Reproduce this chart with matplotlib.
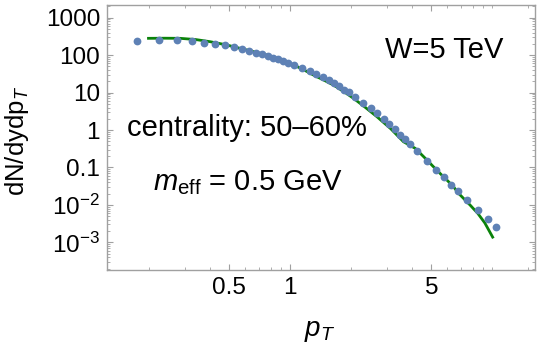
import matplotlib
matplotlib.use("Agg")
import matplotlib.pyplot as plt
from matplotlib.ticker import FixedLocator, NullFormatter, LogLocator

plt.rcParams['font.family'] = ['Liberation Sans', 'DejaVu Sans']
plt.rcParams['mathtext.fontset'] = 'custom'
plt.rcParams['mathtext.rm'] = 'Liberation Sans'
plt.rcParams['mathtext.it'] = 'Liberation Sans:italic'

# data points (pT, dN/dydpT)
pt_data = [0.175, 0.225, 0.275, 0.325, 0.375, 0.425, 0.475, 0.525, 0.575, 0.625,
           0.675, 0.725, 0.775, 0.825, 0.875, 0.925, 0.975, 1.05, 1.15, 1.25,
           1.35, 1.45, 1.55, 1.65, 1.75, 1.85, 1.95, 2.1, 2.3, 2.5,
           2.7, 2.9, 3.1, 3.3, 3.5, 3.7, 3.9, 4.25, 4.75, 5.25,
           5.75, 6.25, 6.75, 7.5, 8.5, 9.5, 10.5]
y_data = [243, 259, 249, 234, 215, 199, 183, 165, 146, 131,
          116, 105, 94.8, 85.4, 77.4, 69.7, 62.8, 56.2, 45.9, 37.5,
          31.4, 26.1, 21.7, 18.0, 14.7, 12.1, 10.2, 7.71, 5.43, 3.87,
          2.81, 2.02, 1.49, 1.04, 0.758, 0.565, 0.428, 0.278, 0.150, 0.0880,
          0.0555, 0.0350, 0.0234, 0.0139, 0.00751, 0.00432, 0.00261]

# model curve
pt_curve = [0.199, 0.24, 0.285, 0.34, 0.402, 0.48, 0.566, 0.66, 0.767, 0.88, 1.0, 1.15, 1.304,
            1.47, 1.64, 1.85, 2.06, 2.36, 2.69, 3.15, 3.64, 4.16, 4.6, 5.12, 5.52,
            6.0, 6.44, 6.82, 7.5, 7.78, 8.5, 9.2, 10.06]
y_curve = [282, 284, 282, 262, 229, 190, 152, 124, 101, 79, 60.5, 42.5, 29.5,
           21.5, 15.9, 10.5, 7.03, 4.0, 2.27, 1.08, 0.487, 0.325, 0.19, 0.105, 0.0697,
           0.045, 0.0305, 0.0204, 0.0121, 0.0099, 0.0059, 0.0033, 0.00138]

xticks = [0.5, 1, 5]
xtick_labels = ['0.5', '1', '5']
yticks = [1e3, 1e2, 1e1, 1, 0.1, 0.01, 0.001]
ytick_labels = ['1000', '100', '10', '1', '0.1',
                r'$\mathregular{10^{-2}}$', r'$\mathregular{10^{-3}}$']

fig = plt.figure(figsize=(5.42, 3.48), dpi=100)
ax = fig.add_axes([107/542, 1-269.7/348, (535-107)/542, (269.7-5)/348])

ax.plot(pt_curve, y_curve, color='#0a820a', lw=2.0, zorder=2)
ax.plot(pt_data, y_data, 'o', color='#5e81b5', ms=5.6, mec='none', zorder=3)

ax.set_xscale('log')
ax.set_yscale('log')
ax.set_xlim(0.124, 16.3)
ax.set_ylim(1.86e-4, 2190)

ax.xaxis.set_major_locator(FixedLocator(xticks))
ax.set_xticklabels(xtick_labels)
minor_x = [0.2, 0.3, 0.4, 0.6, 0.7, 0.8, 0.9, 2, 3, 4, 6, 7, 8, 9, 10, 15]
ax.xaxis.set_minor_locator(FixedLocator(minor_x))
ax.xaxis.set_minor_formatter(NullFormatter())

ax.yaxis.set_major_locator(FixedLocator(yticks))
ax.set_yticklabels(ytick_labels)
ax.yaxis.set_minor_locator(LogLocator(base=10, subs=range(2, 10), numticks=20))
ax.yaxis.set_minor_formatter(NullFormatter())

for s in ax.spines.values():
    s.set_color('#a0a0a0')
    s.set_linewidth(1.0)
ax.tick_params(which='both', direction='in', top=True, right=True, color='#a0a0a0',
               labelsize=17.5, labelcolor='black')
ax.tick_params(which='major', length=4, width=0.8, pad=5)
ax.tick_params(which='minor', length=2, width=0.6)

fig.text(3/542, 1-141/348, r'dN/dydp$_{T}$', rotation=90, ha='left', va='center',
         fontsize=18.5)
fig.text(320/542, 1-331/348, r'$p_{T}$', ha='center', va='center', fontsize=20)

fig.text(385/542, 1-58.3/348, 'W=5 TeV', ha='left', va='baseline', fontsize=21)
fig.text(127/542, 1-136/348, 'centrality: 50\u201360%', ha='left', va='baseline', fontsize=21)
fig.text(153/542, 1-190/348, r'$m_{\mathregular{eff}}$ = 0.5 GeV', ha='left', va='baseline',
         fontsize=21)

fig.savefig('out.png', dpi=100)
